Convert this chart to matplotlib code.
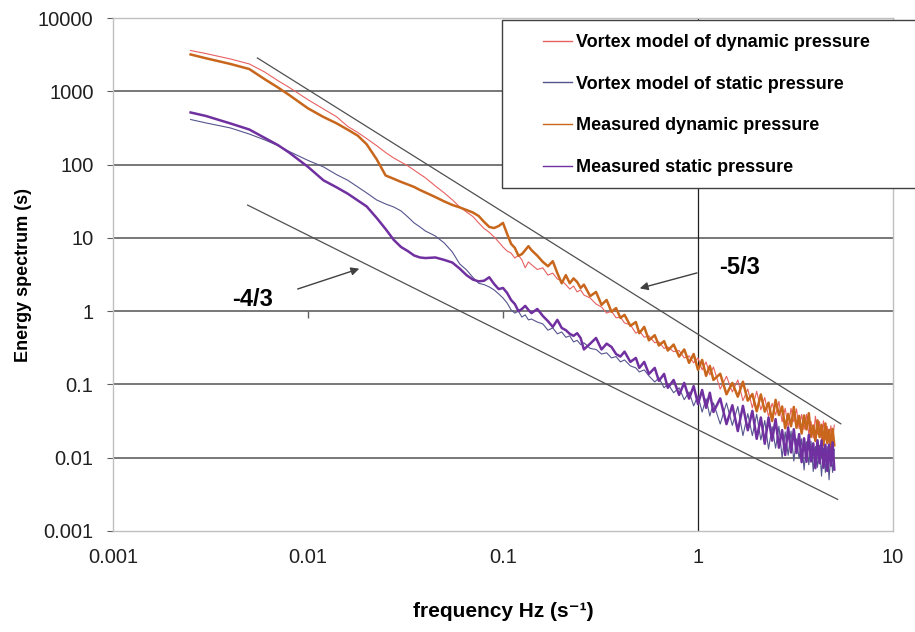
import matplotlib
matplotlib.use('Agg')
import matplotlib.pyplot as plt
from matplotlib.lines import Line2D
from matplotlib.patches import Rectangle

plt.rcParams['font.family'] = ['Liberation Sans', 'DejaVu Sans']

# frequency grid (Hz), shared by the four spectra
freq = [0.0025, 0.003, 0.004, 0.005, 0.006, 0.007, 0.008, 0.01, 0.012, 0.014, 0.016, 0.018,
        0.02, 0.0225, 0.025, 0.0275, 0.03, 0.0325, 0.035, 0.0375, 0.04, 0.045, 0.05, 0.055,
        0.06, 0.065, 0.07, 0.075, 0.08, 0.085, 0.09, 0.095,
        0.1, 0.105, 0.11, 0.115, 0.12, 0.125, 0.13, 0.135, 0.14,
        0.15, 0.16, 0.17, 0.18, 0.19, 0.2, 0.21, 0.22, 0.23, 0.24, 0.25, 0.26,
        0.28, 0.3, 0.32, 0.34, 0.36, 0.38, 0.4, 0.42,
        0.45, 0.48, 0.5, 0.53, 0.56, 0.6, 0.63, 0.67, 0.7, 0.75, 0.8, 0.85, 0.9, 0.95,
        1.0, 1.05, 1.1, 1.15, 1.2,
        1.3, 1.4, 1.5, 1.6, 1.7, 1.8, 1.9, 2.0,
        2.1, 2.2, 2.3, 2.4, 2.5, 2.6, 2.7, 2.8, 2.9, 3.0, 3.1, 3.2, 3.3, 3.4, 3.5, 3.6,
        3.7, 3.8, 3.9, 4.0, 4.1, 4.2, 4.3, 4.4, 4.5, 4.6, 4.7, 4.8, 4.9, 5.0]

model_dyn = [3600, 3270, 2760, 2360, 1830, 1400, 1130, 768, 574, 450, 331, 274,
             226, 181, 146, 123, 108, 96, 84, 74, 66, 51, 41, 33,
             26.4, 22.5, 19.6, 16, 13.4, 11.9, 10.3, 8.8,
             7.5, 6.6, 6.2, 5.3, 5.8, 5.0, 3.9, 4.7, 4.3,
             3.7, 3.9, 3.1, 3.3, 2.75, 2.6, 2.3, 2.0, 2.2, 1.83, 1.95, 1.66,
             1.51, 1.25, 1.14, 0.94, 1.0, 0.81, 0.83, 0.69,
             0.65, 0.50, 0.54, 0.44, 0.46, 0.37, 0.38, 0.31, 0.325, 0.28, 0.29, 0.23, 0.245, 0.197,
             0.23, 0.158, 0.203, 0.135, 0.173,
             0.0864, 0.129, 0.079, 0.115, 0.060, 0.0864, 0.0479, 0.0806,
             0.045, 0.0663, 0.0363, 0.0552, 0.0383, 0.0588, 0.0308, 0.0475, 0.0257, 0.0473,
             0.0309, 0.0464, 0.0248, 0.039, 0.0242, 0.0392, 0.0208, 0.0312, 0.0185, 0.0368,
             0.0209, 0.0311, 0.0173, 0.0319, 0.0175, 0.0267, 0.016, 0.0273, 0.0173, 0.0278]

model_stat = [412, 370, 316, 261, 217, 182, 151, 114, 93, 73, 61, 49.5,
              41, 32.9, 29, 26.4, 23.3, 19.3, 16, 14.1, 12.4, 10.6, 8.5, 6.4,
              4.4, 3.65, 2.9, 2.4, 2.3, 2.14, 1.95, 1.72,
              1.51, 1.29, 1.04, 0.94, 1.0, 0.83, 0.89, 0.76, 0.78,
              0.71, 0.67, 0.55, 0.59, 0.49, 0.52, 0.44, 0.46, 0.38, 0.40, 0.35, 0.37,
              0.31, 0.30, 0.26, 0.27, 0.23, 0.24, 0.203, 0.216,
              0.179, 0.168, 0.148, 0.158, 0.131, 0.108, 0.123, 0.090, 0.102, 0.077, 0.090, 0.062, 0.079, 0.051,
              0.070, 0.042, 0.064, 0.037, 0.056,
              0.0288, 0.0559, 0.0276, 0.050, 0.020, 0.040, 0.020, 0.0392,
              0.0175, 0.0322, 0.0131, 0.0266, 0.0135, 0.0269, 0.010, 0.0225, 0.0108, 0.0231,
              0.009, 0.0181, 0.0097, 0.0181, 0.0068, 0.0165, 0.008, 0.0167, 0.0065, 0.0142,
              0.0074, 0.0147, 0.0056, 0.0136, 0.0063, 0.0142, 0.005, 0.0122, 0.0063, 0.013]

meas_dyn = [3180, 2820, 2360, 2010, 1460, 1130, 891, 585, 446, 366, 299, 248,
            189, 118, 71, 64, 58, 53.5, 49.5, 45, 41.6, 36, 31.4, 28.1,
            26, 24, 22.2, 19.9, 16.5, 14.1, 13.6, 14.5,
            16, 11.3, 8.3, 7.3, 5.7, 6.0, 6.8, 7.7, 6.8,
            5.7, 4.7, 4.1, 4.8, 3.3, 2.4, 3.1, 2.4, 2.8, 2.5, 2.07, 2.3,
            1.6, 1.83, 1.22, 1.42, 0.98, 1.1, 0.81, 0.89,
            0.63, 0.71, 0.50, 0.61, 0.40, 0.47, 0.34, 0.39, 0.29, 0.35, 0.24, 0.30, 0.197, 0.26,
            0.158, 0.216, 0.131, 0.179, 0.115,
            0.140, 0.0733, 0.105, 0.068, 0.109, 0.060, 0.074, 0.043,
            0.073, 0.0425, 0.0564, 0.0317, 0.0616, 0.0382, 0.050, 0.0253, 0.0396, 0.0269,
            0.0493, 0.0256, 0.0372, 0.0214, 0.0377, 0.0243, 0.0405, 0.0193, 0.0275, 0.0169,
            0.0324, 0.0192, 0.0281, 0.0147, 0.0294, 0.0158, 0.024, 0.0134, 0.0247, 0.0148]

meas_stat = [514, 460, 364, 301, 231, 185, 146, 93, 61, 49, 40, 32.4,
             26.8, 18.7, 13.2, 9.4, 7.5, 6.6, 5.75, 5.4, 5.3, 5.4, 5.0, 4.6,
             3.8, 3.1, 2.7, 2.55, 2.6, 2.9, 2.35, 2.0,
             2.07, 1.77, 1.42, 1.25, 1.0, 1.07, 1.18, 1.04, 0.94,
             1.07, 0.86, 0.73, 0.61, 0.76, 0.59, 0.55, 0.49, 0.46, 0.50, 0.43, 0.30,
             0.36, 0.43, 0.30, 0.36, 0.325, 0.26, 0.24, 0.28,
             0.203, 0.23, 0.168, 0.203, 0.139, 0.168, 0.112, 0.139, 0.090, 0.115, 0.072, 0.105, 0.064, 0.095,
             0.054, 0.084, 0.048, 0.077, 0.042,
             0.0644, 0.0287, 0.052, 0.0231, 0.051, 0.0237, 0.0435, 0.0181,
             0.0354, 0.0155, 0.0353, 0.0171, 0.0336, 0.0137, 0.0238, 0.0109, 0.0258, 0.0118,
             0.0245, 0.0116, 0.021, 0.0087, 0.0184, 0.0088, 0.0205, 0.0089, 0.0157, 0.0072,
             0.0173, 0.0084, 0.0172, 0.0073, 0.015, 0.0066, 0.0151, 0.0078, 0.0162, 0.0069]

# reference slopes (end points)
slope53_f = [0.0055, 5.4]
slope53_v = [2850, 0.029]
slope43_f = [0.0049, 5.2]
slope43_v = [28, 0.0027]

series_labels = ['Vortex model of dynamic pressure', 'Vortex model of static pressure',
                 'Measured dynamic pressure', 'Measured static pressure']
series_colors = ['#E86060', '#55558E', '#C8661C', '#7030A0']
series_widths = [0.8, 0.8, 1.8, 1.8]

yticks = [0.001, 0.01, 0.1, 1, 10, 100, 1000, 10000]
ytick_labels = ['0.001', '0.01', '0.1', '1', '10', '100', '1000', '10000']
xticks = [0.001, 0.01, 0.1, 1, 10]
xtick_labels = ['0.001', '0.01', '0.1', '1', '10']

fig = plt.figure(figsize=(9.15, 6.32), dpi=100)
ax = fig.add_axes([113 / 915, 1 - 531 / 632, 780 / 915, 513 / 632])
ax.set_xscale('log')
ax.set_yscale('log')
ax.set_xlim(0.001, 10)
ax.set_ylim(0.001, 10000)

# gridlines + the axis lines crossing at (1, 1)
for yv in yticks[1:-1]:
    ax.axhline(yv, color='#606060', lw=1.2, zorder=1)
ax.axvline(1, color='#202020', lw=0.9, zorder=1)
ax.vlines([0.01, 0.1], 0.8, 1.0, color='#606060', lw=1.0, zorder=1)

# -5/3 and -4/3 lines
ax.plot(slope53_f, slope53_v, color='#505050', lw=0.9, zorder=2)
ax.plot(slope43_f, slope43_v, color='#505050', lw=0.9, zorder=2)

all_series = [model_dyn, model_stat, meas_dyn, meas_stat]
handles = []
for vals, lab, col, w in zip(all_series, series_labels, series_colors, series_widths):
    ax.plot(freq, vals, color=col, lw=w, zorder=3)
    handles.append(Line2D([], [], color=col, lw=1.0))

ax.set_xticks(xticks)
ax.set_xticklabels(xtick_labels)
ax.set_yticks(yticks)
ax.set_yticklabels(ytick_labels)
ax.minorticks_off()
ax.tick_params(axis='both', labelsize=14.5, colors='#202020')
ax.tick_params(axis='x', length=0, pad=12)
ax.tick_params(axis='y', length=4, pad=10, color='#606060')
for sp in ax.spines.values():
    sp.set_color('#C0C0C0')
    sp.set_linewidth(1.0)

ax.set_xlabel('frequency Hz (s\u207b\u00b9)', fontsize=15, fontweight='bold')
ax.xaxis.set_label_coords(0.5, -0.138)
ax.set_ylabel('Energy spectrum (s)', fontsize=13, fontweight='bold')
ax.yaxis.set_label_coords(-0.104, 0.5)

# slope annotations
ax.text(1.64, 3.9, '-5/3', fontsize=17, fontweight='bold', ha='center', va='center')
ax.annotate('', xy=(0.487, 2.0), xytext=(1.02, 3.4),
            arrowprops=dict(arrowstyle='-|>', color='#404040', lw=1.0, mutation_scale=12))
ax.text(0.0052, 1.42, '-4/3', fontsize=17, fontweight='bold', ha='center', va='center')
ax.annotate('', xy=(0.0189, 3.9), xytext=(0.00858, 1.95),
            arrowprops=dict(arrowstyle='-|>', color='#404040', lw=1.0, mutation_scale=12))

# legend box running past the right edge
fig.add_artist(Rectangle((502 / 915, 1 - 188 / 632), 440 / 915, 168 / 632,
                         transform=fig.transFigure, facecolor='white',
                         edgecolor='#404040', lw=1.0, zorder=4))
fig.legend(handles, series_labels, loc='upper left', bbox_to_anchor=(543 / 915, 1 - 34 / 632),
           frameon=False, borderpad=0, borderaxespad=0,
           prop={'weight': 'bold', 'size': 13}, handlelength=1.6, handletextpad=0.2,
           labelspacing=1.37)

fig.savefig('out.png', dpi=100)
